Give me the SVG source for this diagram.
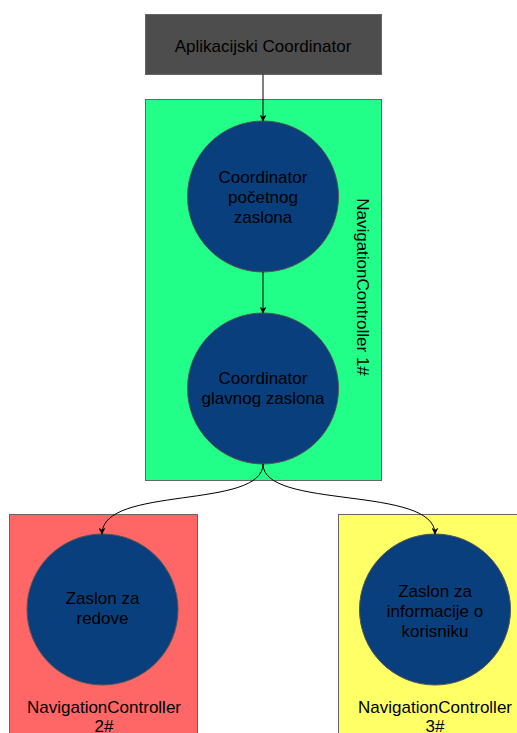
<svg xmlns="http://www.w3.org/2000/svg" width="517" height="733" viewBox="0 0 517 733">
<style>
.box{stroke:#666;stroke-width:1}
.circ{fill:#083f7c;stroke:#555;stroke-width:1}
.t{font-family:"Liberation Sans",Arial,sans-serif;font-size:17px;fill:#000;text-anchor:middle}
.edge{fill:none;stroke:#000;stroke-width:1}
</style>
<defs>
<marker id="arr" viewBox="0 0 10 10" refX="9" refY="5" markerWidth="7" markerHeight="7" markerUnits="userSpaceOnUse" orient="auto">
<path d="M0,0 L10,5 L0,10 L3,5 Z" fill="#000"/>
</marker>
</defs>
<rect width="517" height="733" fill="#fff"/>
<g id="nav1">
<rect class="box" x="145.5" y="99.5" width="236" height="381" fill="#22ff88"/>
<text class="t" transform="translate(357,287) rotate(90)">NavigationController 1#</text>
</g>
<g id="nav2">
<rect class="box" x="9.5" y="514.5" width="188" height="230" fill="#ff6666"/>
<text class="t" x="104" y="713">NavigationController</text>
<text class="t" x="104" y="732">2#</text>
</g>
<g id="nav3">
<rect class="box" x="338.5" y="514.5" width="190" height="230" fill="#ffff66"/>
<text class="t" x="435" y="713">NavigationController</text>
<text class="t" x="435" y="732">3#</text>
</g>
<g id="app">
<rect class="box" x="145.5" y="14.5" width="236" height="60" fill="#4d4d4d"/>
<text class="t" x="263" y="52">Aplikacijski Coordinator</text>
</g>
<g id="start">
<circle class="circ" cx="263" cy="196.5" r="75.5"/>
<text class="t" x="263" y="183">Coordinator</text>
<text class="t" x="263" y="203">početnog</text>
<text class="t" x="263" y="223">zaslona</text>
</g>
<g id="main">
<circle class="circ" cx="263" cy="388.5" r="75.5"/>
<text class="t" x="263" y="384">Coordinator</text>
<text class="t" x="263" y="404">glavnog zaslona</text>
</g>
<g id="rows">
<circle class="circ" cx="102.5" cy="609.5" r="75.5"/>
<text class="t" x="102.5" y="604">Zaslon za</text>
<text class="t" x="102.5" y="624">redove</text>
</g>
<g id="user">
<circle class="circ" cx="435" cy="609.5" r="75.5"/>
<text class="t" x="435" y="597">Zaslon za</text>
<text class="t" x="435" y="617">informacije o</text>
<text class="t" x="435" y="637">korisniku</text>
</g>
<g id="connectors">
<path class="edge" d="M263,74.5 L263,121" marker-end="url(#arr)"/>
<path class="edge" d="M263,272 L263,313" marker-end="url(#arr)"/>
<path class="edge" d="M263,464 C263,510 102,485 102,534" marker-end="url(#arr)"/>
<path class="edge" d="M263,464 C263,510 435,485 435,534" marker-end="url(#arr)"/>
</g>
</svg>
